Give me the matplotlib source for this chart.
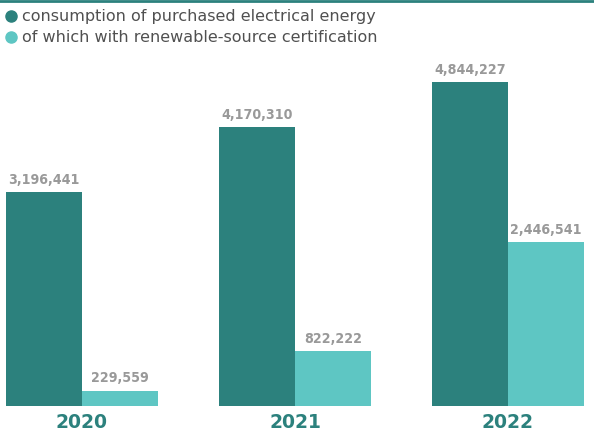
import numpy as np
import matplotlib.pyplot as plt
from matplotlib.lines import Line2D

years = ["2020", "2021", "2022"]
purchased = [3196441, 4170310, 4844227]
renewable = [229559, 822222, 2446541]

dark = "#2c817d"
light = "#5ec6c3"
label_grey = "#999999"

fig = plt.figure(figsize=(5.94, 4.37), dpi=100)
ax = fig.add_axes([0, 31 / 437, 1, 356 / 437])

x = np.arange(len(years))
w = 0.357
b1 = ax.bar(x - w / 2, purchased, width=w, color=dark)
b2 = ax.bar(x + w / 2, renewable, width=w, color=light)

# value labels above each bar
num_font = dict(family="DejaVu Sans", stretch="condensed", fontsize=10.2,
                color=label_grey, fontweight="semibold", ha="center", va="bottom")
for bars, vals in [(b1, purchased), (b2, renewable)]:
    for bar, v in zip(bars, vals):
        ax.text(bar.get_x() + bar.get_width() / 2, v + 80000, f"{v:,}", **num_font)

ax.set_xlim(-0.385, 2.404)
ax.set_ylim(0, 4844227 * 356 / 324)
ax.axis("off")

for xi, yr in zip(x, years):
    fig.text((xi + 0.385) / 2.789, 14 / 437, yr, ha="center", va="center",
             fontsize=13.5, fontweight="bold", color=dark, family="DejaVu Sans")

# legend entries at the top
fig.add_artist(Line2D([0, 1], [1 - 1 / 437, 1 - 1 / 437], color=dark, lw=2))
for yy, col, txt in [(16, dark, "consumption of purchased electrical energy"),
                     (37, light, "of which with renewable-source certification")]:
    fig.add_artist(Line2D([11 / 594], [1 - yy / 437], marker="o", markersize=8,
                          color=col, linestyle="none"))
    fig.text(22 / 594, 1 - yy / 437, txt, ha="left", va="center",
             fontsize=11.5, color="#505050", family="DejaVu Sans")

fig.savefig("out.png", dpi=100)
